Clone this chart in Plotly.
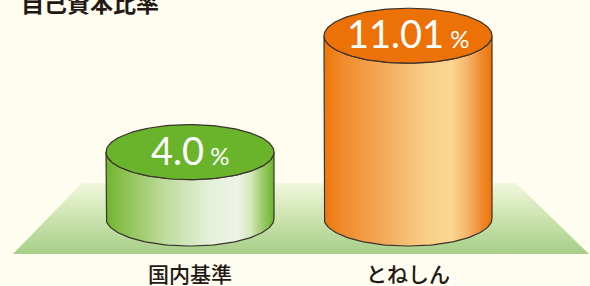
import numpy as np
import plotly.graph_objects as go

# ---- data ----
title = "自己資本比率"
categories = ["国内基準", "とねしん"]
values = [4.0, 11.01]
value_labels = ["4.0", "11.01"]
unit = "%"

# ---- styles ----
body_scales = [
    [[0, "#6FB42E"], [0.08, "#86BE48"], [0.35, "#BEDC9C"], [0.6, "#E2EFD6"],
     [0.78, "#EEF4E8"], [0.86, "#D4E8BE"], [0.93, "#9ECB6C"], [1, "#6AB42A"]],
    [[0, "#EE7609"], [0.12, "#F08C2E"], [0.4, "#F4B061"], [0.62, "#F9CF88"],
     [0.76, "#FAD692"], [0.85, "#F6B56C"], [0.93, "#F18E34"], [1, "#EE7406"]],
]
top_colors = ["#6AB42C", "#EC7208"]
outline = "#3A332C"
bg = "#FFFDEF"

W, H = 590, 286
PX_PER_CAT = 218.0
X0_PX = 190.0
PX_PER_UNIT = 16.6
BASE_PX = 218.5


def xr(px):
    return (px - X0_PX) / PX_PER_CAT


def yr(py):
    return (BASE_PX - py) / PX_PER_UNIT


rx = 84.0 / PX_PER_CAT
ry = 27.5 / PX_PER_UNIT

fig = go.Figure()

# floor
fx = [xr(82), xr(516), xr(589), xr(13), xr(82)]
fy = [yr(183), yr(183), yr(254), yr(254), yr(183)]
fig.add_trace(go.Scatter(
    x=fx, y=fy, mode="lines", fill="toself", line=dict(width=0),
    fillgradient=dict(type="vertical", start=yr(254), stop=yr(183),
                      colorscale=[[0, "#A6CF88"], [0.5, "#CBE3AE"], [1, "#F2F7DC"]]),
    hoverinfo="skip", showlegend=False))

t = np.linspace(0, np.pi, 80)
tf = np.linspace(0, 2 * np.pi, 160)
for i, (cat, v) in enumerate(zip(categories, values)):
    cx = i
    bx = np.concatenate([[cx - rx], cx - rx * np.cos(t), [cx + rx], cx + rx * np.cos(t)])
    by = np.concatenate([[v], -ry * np.sin(t), [v], v - ry * np.sin(t)])
    fig.add_trace(go.Scatter(
        x=bx, y=by, mode="lines", fill="toself",
        line=dict(color=outline, width=1.2),
        fillgradient=dict(type="horizontal", start=cx - rx, stop=cx + rx,
                          colorscale=body_scales[i]),
        hoverinfo="skip", showlegend=False))
    fig.add_trace(go.Scatter(
        x=cx + rx * np.cos(tf), y=v + ry * np.sin(tf), mode="lines", fill="toself",
        fillcolor=top_colors[i], line=dict(color=outline, width=1.2),
        hoverinfo="skip", showlegend=False))
    fig.add_annotation(
        x=cx, y=v + 0.15, xref="x", yref="y", showarrow=False,
        text=f"{value_labels[i]}<span style=\"font-size:24px\"> {unit}</span>",
        font=dict(family="Lato", size=38, color="white"),
        xanchor="center", yanchor="middle")
    fig.add_annotation(
        x=cx, y=yr(273), xref="x", yref="y", showarrow=False, text=cat,
        font=dict(family="Noto Sans CJK JP", size=21, color="#231815", weight=500),
        xanchor="center", yanchor="middle")

fig.add_annotation(
    x=19 / W, y=1 - 2 / H, xref="paper", yref="paper", showarrow=False,
    text=f"<b>{title}</b>",
    font=dict(family="Noto Sans CJK JP", size=23, color="#231815"),
    xanchor="left", yanchor="middle")

fig.update_layout(
    width=W, height=H, margin=dict(l=0, r=0, t=0, b=0),
    paper_bgcolor=bg, plot_bgcolor=bg,
    xaxis=dict(range=[xr(0), xr(W)], visible=False, fixedrange=True),
    yaxis=dict(range=[yr(H), yr(0)], visible=False, fixedrange=True),
    showlegend=False,
)

fig.write_html("out.html", config={"displayModeBar": False},
               post_script="document.body.style.margin='0';document.body.style.overflow='hidden';")
